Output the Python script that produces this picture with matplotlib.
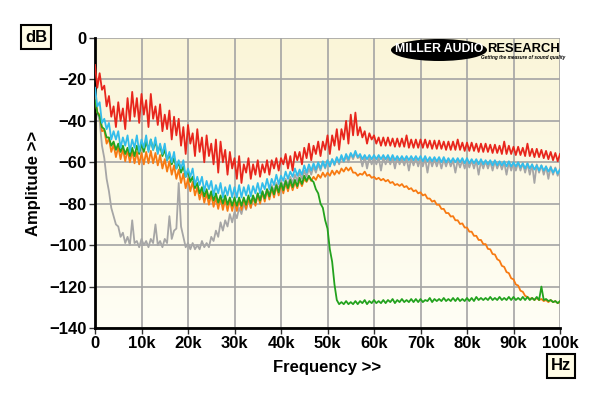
import matplotlib
matplotlib.use("Agg")
import matplotlib.pyplot as plt
from matplotlib.patches import Ellipse
import numpy as np

# ------------------------------
#    DATA (dB vs kHz)
#    *_hi: value at each whole kHz, *_lo: value half a kHz later
#    (the spread between them is the measurement noise)
# ------------------------------
red_hi = [-13, -17, -23, -28, -33, -31, -34, -29, -26, -29,
          -27, -30, -27, -33, -32, -37, -35, -38, -39, -43,
          -42, -46, -44, -48, -47, -51, -49, -50, -54, -55,
          -58, -57, -61, -58, -61, -59, -61, -59, -59, -58,
          -58, -56, -57, -55, -55, -53, -51, -52, -50, -50,
          -47, -47, -44, -44, -40, -37, -36, -43, -45, -46,
          -47, -48, -48, -48, -48.5, -48.5, -48.5, -47, -49, -49,
          -49, -49, -49.5, -49.5, -49.5, -50, -50, -50, -49, -50.5,
          -50.5, -50.5, -51, -51, -51, -51.5, -51.5, -52, -50, -52,
          -52.5, -52.5, -53, -51, -53.5, -53.5, -54, -54.5, -55, -55.5,
          -56]
red_lo = [-24, -25, -33, -38, -43, -40, -44, -40, -38, -41,
          -37, -43, -39, -42, -45, -44, -49, -47, -52, -56,
          -51, -57, -55, -60, -57, -61, -65, -60, -66, -63,
          -68, -70, -65, -68, -66, -67, -65, -66, -63, -64,
          -61, -63, -64, -59, -61, -58, -59, -56, -57, -54,
          -56, -52, -54, -49, -51, -47, -47, -48, -51, -49,
          -51, -52, -52, -52, -52.5, -52.5, -52.5, -53, -53, -53,
          -53, -53, -53.5, -53.5, -53.5, -54, -54, -54, -54, -54.5,
          -54.5, -54.5, -55, -55, -55, -55.5, -55.5, -56, -56, -56,
          -56.5, -56.5, -57, -57, -57.5, -57.5, -58, -58.5, -59, -59.5]

cyan_hi = [-24, -31, -39, -41, -45, -45, -48, -47, -49, -47,
           -49, -47, -49, -48, -51, -51, -55, -55, -59, -59,
           -63, -63, -67, -67, -69, -69, -71, -70, -72, -71,
           -72, -71, -72, -71, -71.5, -70, -70, -68, -68, -66,
           -66.5, -64.5, -64.5, -63, -63.5, -61.5, -61, -60.5, -60, -59.5,
           -59, -58.5, -57.5, -56.5, -56, -55.5, -54.5, -56, -56.5, -56.5,
           -56.5, -56.5, -56.5, -56.5, -56.5, -57, -57, -57, -57, -57,
           -57, -57, -57.5, -57.5, -57.5, -57.5, -58, -58, -58, -58,
           -58, -58.5, -58.5, -58.5, -59, -59, -59, -59.5, -59.5, -59.5,
           -60, -60, -60.5, -60.5, -61, -61.5, -61.5, -62, -62.5, -63,
           -63.5]
cyan_lo = [-33, -41, -44, -49, -49, -53, -52, -55, -53, -55,
           -53, -55, -54, -56, -56, -59, -60, -63, -63, -67,
           -67, -71, -71, -74, -73, -76, -75, -77, -76, -77,
           -77, -77, -76, -76.5, -75, -75, -73, -73, -71, -70.5,
           -69, -68, -67, -66.5, -66, -65, -64, -63.5, -63, -62.5,
           -62, -61, -60, -59.5, -58.5, -57.5, -57.5, -58.5, -58.5, -58.5,
           -58.5, -58.5, -58.5, -59, -59, -59, -59, -59, -59, -59,
           -59.5, -59.5, -59.5, -59.5, -60, -60, -60, -60, -60, -60.5,
           -60.5, -60.5, -61, -61, -61, -61.5, -61.5, -61.5, -62, -62,
           -62, -62.5, -63, -63, -63.5, -64, -64, -64.5, -65, -65.5]

gray_hi = [-28, -40, -58, -74, -86, -91, -94, -96, -88, -98,
           -97, -98, -97, -90, -98, -97, -86, -93, -70, -96,
           -99, -99, -100, -98, -99, -96, -93, -89, -88, -85,
           -84, -82, -80, -78, -77, -75, -74, -73, -71, -70,
           -69, -68, -67, -66, -65, -64, -63, -62, -61, -60,
           -59, -58.5, -58, -57.5, -57, -56, -55.5, -57, -57, -57.5,
           -57.5, -57.5, -57.5, -57.5, -57.5, -57.5, -58, -58, -58, -58,
           -58, -58, -58, -58.5, -58.5, -58.5, -58.5, -59, -59, -59,
           -59, -59, -59, -59.5, -59.5, -59.5, -59.5, -60, -60, -60,
           -60, -60, -60.5, -60.5, -61, -61, -61.5, -62, -62, -62.5,
           -63]
gray_lo = [-36, -52, -68, -82, -90, -96, -99, -100, -99, -101,
           -100, -101, -99, -100, -101, -99, -97, -92, -91, -101,
           -102, -102, -102, -101, -101, -98, -96, -93, -91, -89,
           -87, -85, -83, -82, -80, -79, -77, -76, -74, -73,
           -72, -71, -70, -69, -68, -67, -66, -65, -64, -63,
           -62, -61.5, -61, -60, -60, -58.5, -58, -62, -63, -61,
           -61, -64, -61, -61, -63, -61, -61.5, -64, -61.5, -62,
           -62, -65, -62, -62, -63, -62, -62, -65, -62.5, -63,
           -62.5, -63, -66, -63, -63, -64, -63, -63.5, -66, -64,
           -64, -64, -65, -66, -70, -65, -66, -68, -66, -66.5]

orange_hi = [-28, -37, -44.5, -48.5, -51.5, -52.5, -53.5, -54, -54.5, -55,
             -55.5, -55, -54.5, -55.5, -56.5, -58.5, -59.5, -61.5, -63.5, -65.5,
             -68, -69.5, -72, -73.5, -75, -75.5, -77, -77, -78, -78,
             -78.5, -78, -77.5, -77, -76.5, -75.5, -74.5, -73.5, -72.5, -71.5,
             -70.5, -70, -69.5, -69.5, -68.5, -68, -67, -67, -66, -65,
             -65, -64, -64, -63, -62.5, -62.5, -65, -65.5, -64.5, -66,
             -67, -67.5, -68, -68.5, -69.5, -70.5, -70.5, -71.5, -72.5, -73.5,
             -74.5, -75.5, -77.5, -78.5, -80.5, -82.5, -84.5, -86, -88, -89.5,
             -91.5, -93.5, -95.5, -97.5, -99.5, -102, -104.5, -107.5, -110.5, -113.5,
             -116.5, -119.5, -122.5, -125, -125.5, -125.5, -126, -126.5, -126.5, -127,
             -127.5]
orange_lo = [-36, -45, -51, -55, -57.5, -58.5, -59.5, -60, -60.5, -61,
             -61, -60.5, -60.5, -61.5, -63, -64.5, -66, -68, -70, -72.5,
             -74, -76, -78, -79.5, -80.5, -81.5, -82.5, -83, -83.5, -83.5,
             -83.5, -83, -82.5, -82, -81, -80, -79, -78, -77, -76,
             -75, -74, -73.5, -72.5, -71.5, -69.5, -69, -68.5, -67.5, -67,
             -66.5, -66, -65.5, -64.5, -64, -65, -66.5, -66, -66.5, -67.5,
             -68.2, -68.7, -69.2, -70, -71, -71.4, -72, -73, -74, -75,
             -76, -77.5, -79, -80.5, -82.5, -84.5, -86.2, -88, -89.8, -91.5,
             -93.5, -95.5, -97.5, -99.5, -101.8, -104.3, -106.8, -110, -113, -116,
             -119, -122, -124.5, -126, -126.5, -126.5, -127, -127.5, -127.5, -128]

green_hi = [-30, -38, -44, -48, -50, -51, -52, -53, -53, -52,
            -51, -50, -49, -50, -52, -54, -56, -58, -60, -62,
            -64, -67, -70, -72, -73, -74, -75, -76, -76, -77,
            -77, -77, -77, -76, -76, -75, -74, -73, -72, -71,
            -70, -69, -68.5, -68.5, -67.5, -66.5, -66.5, -69.5, -75, -82,
            -92, -108, -126.5, -127.5, -127, -127.5, -127, -127, -126.5, -127,
            -126.5, -127, -126.5, -126.5, -126, -126.5, -126, -126.5, -126, -126,
            -126, -126.5, -125.5, -126, -126, -125.5, -126, -125.5, -125.5, -126,
            -125.5, -125.5, -125, -125.5, -125.5, -125, -125.5, -125, -125.5, -125,
            -125, -125.5, -125, -125, -125.5, -125, -120, -126, -126.5, -127,
            -127]
green_lo = [-36, -43, -48, -52, -54, -55, -56, -57, -57, -56,
            -55, -54, -54, -55, -57, -59, -61, -63, -65, -67,
            -69.5, -72.5, -75, -76.5, -77.5, -78.5, -79.5, -80, -80.5, -81,
            -81, -81, -80.5, -80, -79.5, -78.5, -77.5, -76.5, -75.5, -74.5,
            -73.5, -72.5, -72, -71.5, -70.5, -69, -68.5, -73, -80, -88,
            -102, -119, -128.5, -128.5, -128.5, -128.5, -128.5, -128, -128.5, -128,
            -128, -128, -128, -127.5, -128, -127.5, -127.5, -127.5, -127.5, -127.5,
            -127.5, -127, -127.5, -127, -127, -127, -127, -127, -127, -127,
            -127, -127, -126.5, -126.5, -126.5, -126.5, -126.5, -126.5, -126.5, -126.5,
            -126.5, -126.5, -126.5, -126.5, -126.5, -126.5, -126.5, -127, -127.5, -128]

x_ticks = [0, 10, 20, 30, 40, 50, 60, 70, 80, 90, 100]
x_tick_labels = ["0", "10k", "20k", "30k", "40k", "50k", "60k", "70k", "80k", "90k", "100k"]
y_ticks = [0, -20, -40, -60, -80, -100, -120, -140]


def trace(hi, lo):
    """Interleave whole-kHz and half-kHz readings into one plotted trace."""
    xs, ys = [], []
    for k, (a, b) in enumerate(zip(hi, lo)):
        xs += [k, k + 0.5]
        ys += [a, b]
    if len(hi) > len(lo):
        xs.append(len(lo))
        ys.append(hi[-1])
    return xs, ys


# ------------------------------
#    PLOT
# ------------------------------
plt.rcParams['font.family'] = ['Liberation Sans', 'DejaVu Sans']

fig = plt.figure(figsize=(6, 3.96), dpi=100)
fig.patch.set_facecolor('white')
ax = fig.add_axes([95 / 600, 1 - 328 / 396, 465 / 600, 290 / 396])

# cream background, slightly deeper at the top
grad = np.linspace(0, 1, 256).reshape(-1, 1)
cmap = matplotlib.colors.LinearSegmentedColormap.from_list('bg', ['#FAF5D8', '#FFFEF5'])
ax.imshow(grad, aspect='auto', cmap=cmap, extent=[0, 100, -140, 0], origin='upper', zorder=0)

ax.set_xlim(0, 100)
ax.set_ylim(-140, 0)
ax.grid(True, color='#A4A4A4', linewidth=1.2, zorder=1)
ax.set_axisbelow(True)

lw = 1.3
for hi, lo, col, z in [(gray_hi, gray_lo, '#A6A6A6', 2),
                       (orange_hi, orange_lo, '#F77A12', 3),
                       (green_hi, green_lo, '#23A21E', 4),
                       (cyan_hi, cyan_lo, '#33BDEB', 5),
                       (red_hi, red_lo, '#E8261C', 6)]:
    xs, ys = trace(hi, lo)
    ax.plot(xs, ys, color=col, lw=lw, zorder=z)

ax.set_xticks(x_ticks)
ax.set_xticklabels(x_tick_labels)
ax.set_yticks(y_ticks)
ax.tick_params(axis='both', direction='out', length=4, width=1, color='#333333',
               labelsize=12, pad=2)
for lab in ax.get_xticklabels() + ax.get_yticklabels():
    lab.set_fontweight('bold')

for side in ['left', 'bottom']:
    ax.spines[side].set_linewidth(2)
    ax.spines[side].set_color('black')
for side in ['top', 'right']:
    ax.spines[side].set_visible(False)

ax.set_xlabel('Frequency >>', fontsize=12, fontweight='bold', labelpad=6)
ax.set_ylabel('Amplitude >>', fontsize=12, fontweight='bold', labelpad=6)

# unit boxes
box = dict(boxstyle='square,pad=0.25', facecolor='#FFFCE6', edgecolor='black', linewidth=1.5)
fig.text(36 / 600, 1 - 37 / 396, 'dB', ha='center', va='center', fontsize=12,
         fontweight='bold', bbox=box)
fig.text(561 / 600, 1 - 366 / 396, 'Hz', ha='center', va='center', fontsize=12,
         fontweight='bold', bbox=box)

# logo
ax_logo = fig.add_axes([390 / 600, 1 - 64 / 396, 172 / 600, 26 / 396])
ax_logo.set_xlim(0, 172)
ax_logo.set_ylim(0, 26)
ax_logo.axis('off')
ax_logo.add_patch(Ellipse((49, 14), 96, 22, facecolor='black', edgecolor='none'))
ax_logo.text(49, 14.5, 'MILLER AUDIO', color='white', ha='center', va='center',
             fontsize=8.8, fontweight='bold')
ax_logo.text(133, 15.5, 'RESEARCH', color='black', ha='center', va='center',
             fontsize=9.4, fontweight='bold')
ax_logo.text(133, 6.5, 'Getting the measure of sound quality', color='black', ha='center',
             va='center', fontsize=3.4, fontweight='bold', style='italic')

fig.savefig('out.png', dpi=100, facecolor='white')
